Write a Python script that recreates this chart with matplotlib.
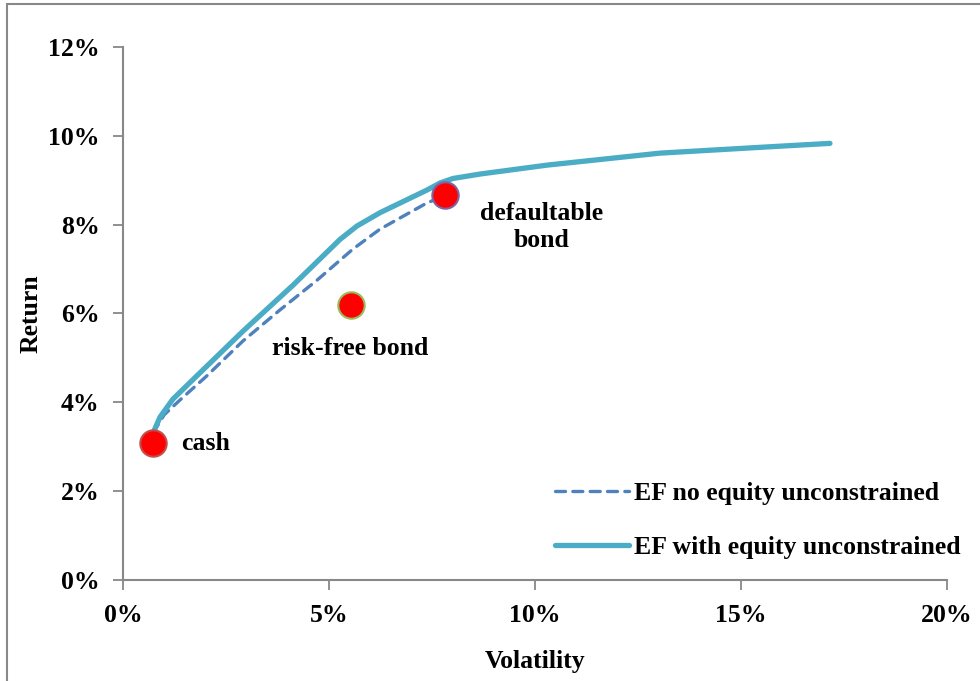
import matplotlib
matplotlib.use("Agg")
import matplotlib.pyplot as plt
from matplotlib.patches import Rectangle

# ---- data (percent) ----
ef_no_equity_vol = [0.73, 1.00, 1.38, 2.04, 2.91, 3.81, 4.71, 5.58, 6.24, 7.38, 7.80]
ef_no_equity_ret = [3.31, 3.72, 4.05, 4.60, 5.38, 6.08, 6.75, 7.45, 7.90, 8.49, 8.65]

ef_with_equity_vol = [0.73, 0.90, 1.21, 1.63, 2.91, 4.13, 5.27, 5.68, 6.24, 7.38, 7.70, 8.01, 8.67, 10.29, 13.03, 15.63, 17.16]
ef_with_equity_ret = [3.31, 3.67, 4.07, 4.45, 5.60, 6.64, 7.67, 7.97, 8.27, 8.78, 8.94, 9.04, 9.14, 9.34, 9.61, 9.75, 9.83]

asset_names = ["cash", "risk-free bond", "defaultable\nbond"]
asset_vol = [0.73, 5.53, 7.82]
asset_ret = [3.08, 6.19, 8.67]
asset_edge = ["#C0504D", "#9BBB59", "#8064A2"]

x_ticks = [0, 5, 10, 15, 20]
y_ticks = [0, 2, 4, 6, 8, 10, 12]

plt.rcParams['font.family'] = ['Liberation Serif', 'DejaVu Serif']
plt.rcParams['font.weight'] = 'bold'

fig = plt.figure(figsize=(9.8, 6.81), dpi=100)
ax = fig.add_axes([0.1255, 0.1483, 0.8408, 0.7827])

ax.plot(ef_no_equity_vol, ef_no_equity_ret, color="#4F81BD", lw=2.4,
        linestyle=(0, (3, 2.2)), dash_capstyle='round', solid_capstyle='round',
        dash_joinstyle='round', label="EF no equity unconstrained", zorder=3)
ax.plot(ef_with_equity_vol, ef_with_equity_ret, color="#4BACC6", lw=3.8,
        solid_capstyle='round', solid_joinstyle='round',
        label="EF with equity unconstrained", zorder=4)

for v, r, ec in zip(asset_vol, asset_ret, asset_edge):
    ax.plot([v], [r], marker='o', markersize=19, markerfacecolor='#FF0000',
            markeredgecolor=ec, markeredgewidth=1.5, linestyle='none', zorder=5)

fs = 18.5
ax.text(1.41, 3.08, asset_names[0], ha='left', va='center', fontsize=fs, fontweight='bold')
ax.text(5.51, 5.22, asset_names[1], ha='center', va='center', fontsize=fs, fontweight='bold')
ax.text(10.15, 7.94, asset_names[2], ha='center', va='center', fontsize=fs,
        fontweight='bold', linespacing=1.22)

ax.set_xlim(0, 20)
ax.set_ylim(0, 12)
ax.set_xticks(x_ticks)
ax.set_yticks(y_ticks)
ax.set_xticklabels([f"{t}%" for t in x_ticks], fontsize=fs, fontweight='bold')
ax.set_yticklabels([f"{t}%" for t in y_ticks], fontsize=fs, fontweight='bold')
ax.tick_params(axis='both', direction='out', length=7, width=1.3, color='#888888')
ax.tick_params(axis='x', pad=10)
ax.tick_params(axis='y', pad=10)
for s in ['top', 'right']:
    ax.spines[s].set_visible(False)
for s in ['left', 'bottom']:
    ax.spines[s].set_color('#888888')
    ax.spines[s].set_linewidth(1.5)

ax.set_xlabel("Volatility", fontsize=fs, fontweight='bold', labelpad=17)
ax.set_ylabel("Return", fontsize=fs, fontweight='bold', labelpad=4)

leg = ax.legend(loc='lower right', bbox_to_anchor=(1.045, -0.0045), frameon=False,
                handlelength=2.9, handletextpad=0.2, labelspacing=1.2,
                prop={'weight': 'bold', 'size': fs})

fig.patches.append(Rectangle((7 / 980, -0.2), 1.2, 1.2 - 4 / 681, transform=fig.transFigure,
                             fill=False, edgecolor='#888888', lw=1.5, zorder=0))

fig.savefig("out.png", dpi=100)
